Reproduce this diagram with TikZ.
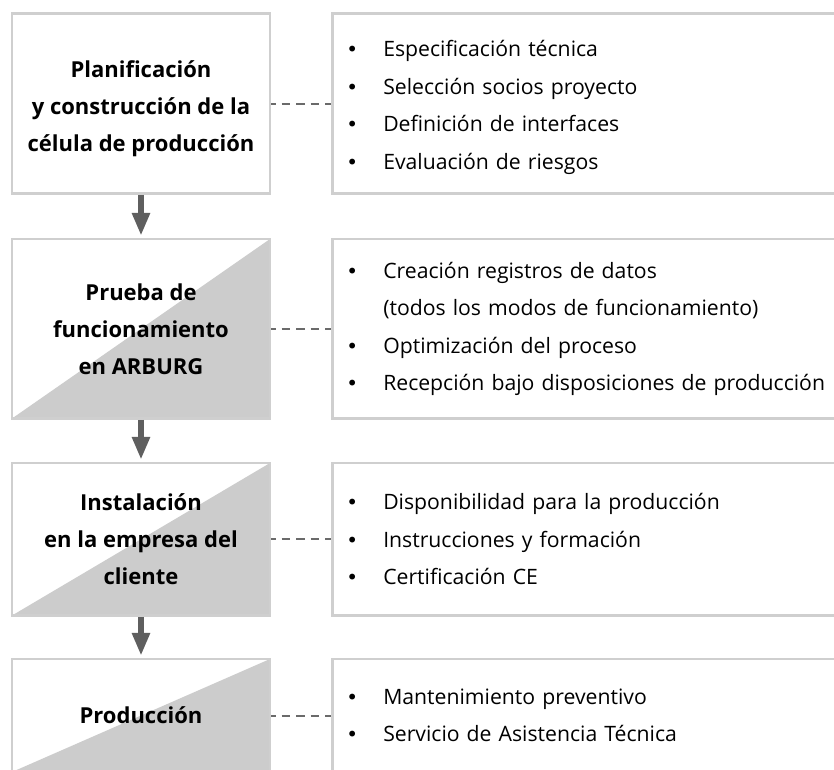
\documentclass[tikz,border=0pt]{standalone}
\usepackage{fontspec}
\setmainfont{Open Sans}
\newfontfamily\bulfont{DejaVu Sans}
\usetikzlibrary{arrows.meta}
\definecolor{boxgray}{HTML}{CCCCCC}
\definecolor{linegray}{HTML}{CFCFCF}
\definecolor{arrowgray}{HTML}{5F5F5F}
\definecolor{dashgray}{HTML}{6A6A6A}
\begin{document}
\begin{tikzpicture}[x=1pt,y=-1pt,
  lbox/.style={draw=linegray, line width=2.5pt, fill=white, minimum width=258pt,
    inner sep=0pt, align=center, text=black,
    font=\fontsize{22}{37}\selectfont\bfseries},
  ltext/.style={inner sep=0pt, outer sep=0pt, align=center, text=black,
    font=\fontsize{22}{37}\selectfont\bfseries},
  halfshade/.style={path picture={\fill[boxgray]
    (path picture bounding box.south west) -- (path picture bounding box.north east)
    -- (path picture bounding box.south east) -- cycle;}},
  rbox/.style={draw=linegray, line width=2.5pt, fill=white, anchor=west,
    text width=538pt, inner xsep=14pt, inner ysep=0pt, align=left, text=black,
    font=\fontsize{21.2}{37.5}\selectfont},
  rtext/.style={anchor=west, outer sep=0pt, text width=538pt, inner xsep=15.25pt,
    inner ysep=0pt, align=left, text=black, font=\fontsize{21.2}{37.5}\selectfont},
  dashline/.style={draw=dashgray, line width=2pt, dash pattern=on 8.5pt off 6pt, dash phase=4.2pt},
  flowarrow/.style={draw=arrowgray, line width=6pt, -{Triangle[width=17pt,length=23pt]}, shorten >=2pt}
]
\useasboundingbox (0,0) rectangle (834,769);
\clip (0,0) rectangle (834,769);
\newcommand{\bul}{\makebox[37pt][l]{{\bulfont\fontsize{20}{20}\selectfont •}}}
% left boxes
\node[lbox, minimum height=180pt] (L1) at (141,103.5) {};
\node[ltext] (T1) at ([yshift=-5pt]L1.center)
  {Planificación\\y construcción de la\\célula de producción};
\node[lbox, halfshade, minimum height=179.5pt] (L2) at (141,328.75)
  {Prueba de\\funcionamiento\\en ARBURG};
\node[lbox, halfshade, minimum height=152.5pt] (L3) at (141,539.25)
  {Instalación\\en la empresa del\\cliente};
\node[lbox, halfshade, minimum height=113pt] (L4) at (141,715.5)
  {Producción};
% right boxes
\node[rbox, minimum height=180pt] (R1) at (331,103.5) {};
\node[rtext] (S1) at ([yshift=-4pt]R1.west)
  {\bul Especificación técnica\\\bul Selección socios proyecto\\\bul Definición de interfaces\\\bul Evaluación de riesgos};
\node[rbox, minimum height=179.5pt] (R2) at (331,328.75)
  {\bul Creación registros de datos\\\hspace*{37pt}(todos los modos de funcionamiento)\\\bul Optimización del proceso\\\bul Recepción bajo disposiciones de producción};
\node[rbox, minimum height=152.5pt] (R3) at (331,539.25)
  {\bul Disponibilidad para la producción\\\bul Instrucciones y formación\\\bul Certificación CE};
\node[rbox, minimum height=113pt] (R4) at (331,715.5)
  {\bul Mantenimiento preventivo\\\bul Servicio de Asistencia Técnica};
% dashed connectors
\draw[dashline] (L1.east) -- (R1.west);
\draw[dashline] (L2.east) -- (R2.west);
\draw[dashline] (L3.east) -- (R3.west);
\draw[dashline] (L4.east) -- (R4.west);
% arrows
\draw[flowarrow] (L1.south) -- (L2.north);
\draw[flowarrow] (L2.south) -- (L3.north);
\draw[flowarrow] (L3.south) -- (L4.north);
\end{tikzpicture}
\end{document}
